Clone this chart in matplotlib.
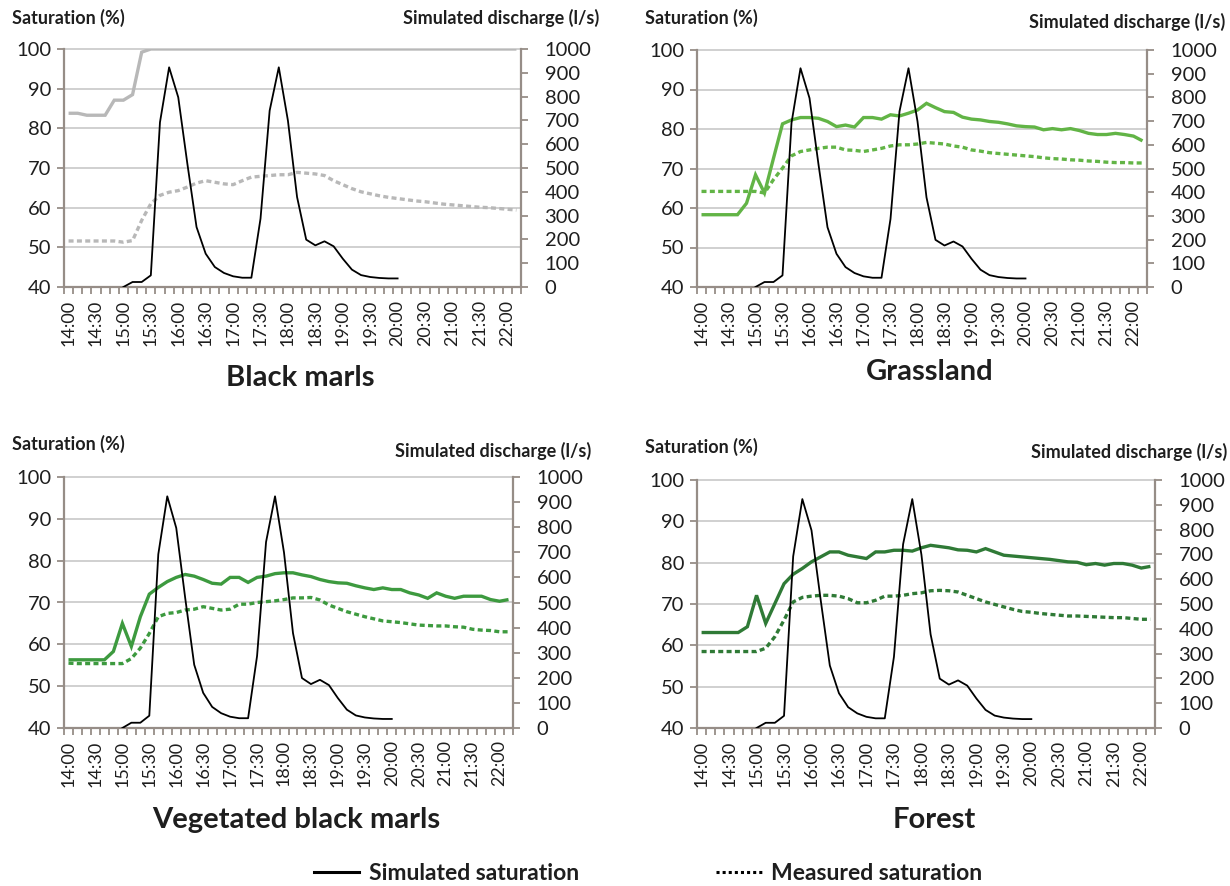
import numpy as np
import matplotlib
matplotlib.use("Agg")
import matplotlib.pyplot as plt
from matplotlib.lines import Line2D

plt.rcParams["font.family"] = ["Lato", "DejaVu Sans"]

nan = np.nan

# 10-minute categories from 14:00 to 22:10, labels every 30 minutes
N_STEPS = 50
TIME_LABELS = ["14:00", "14:30", "15:00", "15:30", "16:00", "16:30", "17:00", "17:30",
               "18:00", "18:30", "19:00", "19:30", "20:00", "20:30", "21:00", "21:30", "22:00"]
SAT_TICKS = [40, 50, 60, 70, 80, 90, 100]
DIS_TICKS = [0, 100, 200, 300, 400, 500, 600, 700, 800, 900, 1000]

# simulated discharge (l/s), same in every panel
DISCHARGE = [nan, nan, nan, nan, nan, nan,
             0, 21, 21, 49, 692, 923, 797, 517, 252, 140,
             84, 59, 45, 39, 39, 287, 741, 923, 699, 378,
             199, 175, 192, 171, 119, 73, 50, 42, 38, 36, 36,
             nan, nan, nan, nan, nan, nan, nan, nan, nan, nan, nan, nan, nan]

BM_SIM = [83.8, 83.8, 83.3, 83.3, 83.3, 87.1, 87.1, 88.5, 99.2, 100,
          100, 100, 100, 100, 100, 100, 100, 100, 100, 100,
          100, 100, 100, 100, 100, 100, 100, 100, 100, 100,
          100, 100, 100, 100, 100, 100, 100, 100, 100, 100,
          100, 100, 100, 100, 100, 100, 100, 100, 100, 100]
BM_MEAS = [51.6, 51.6, 51.6, 51.6, 51.6, 51.6, 51.3, 51.7, 56.8, 61.0,
           63.1, 63.9, 64.3, 65.2, 66.2, 66.8, 66.4, 66.0, 65.8, 66.8,
           67.7, 67.9, 68.1, 68.3, 68.3, 68.9, 68.7, 68.5, 68.1, 66.8,
           65.8, 64.8, 64.0, 63.5, 63.0, 62.6, 62.3, 62.0, 61.7, 61.5,
           61.2, 60.9, 60.7, 60.5, 60.3, 60.1, 60.0, 59.8, 59.6, 59.4]

GR_SIM = [58.3, 58.3, 58.3, 58.3, 58.3, 61.2, 68.4, 63.8, 72.6, 81.3,
          82.3, 82.9, 82.9, 82.7, 81.9, 80.6, 81.0, 80.5, 82.9, 82.9,
          82.5, 83.6, 83.3, 84.0, 84.8, 86.5, 85.4, 84.4, 84.2, 83.0,
          82.5, 82.3, 81.9, 81.7, 81.3, 80.8, 80.6, 80.5, 79.8, 80.1,
          79.8, 80.1, 79.6, 78.9, 78.6, 78.6, 78.9, 78.6, 78.2, 77.0]
GR_MEAS = [64.2, 64.2, 64.2, 64.2, 64.2, 64.2, 64.2, 63.8, 67.2, 70.1,
           73.2, 74.3, 74.7, 75.1, 75.4, 75.4, 74.7, 74.6, 74.3, 74.7,
           75.1, 75.7, 76.0, 76.0, 76.2, 76.6, 76.4, 76.2, 75.7, 75.4,
           74.7, 74.4, 74.0, 73.8, 73.6, 73.4, 73.2, 73.0, 72.7, 72.5,
           72.4, 72.2, 72.1, 71.9, 71.8, 71.6, 71.5, 71.5, 71.4, 71.4]

VBM_SIM = [56.3, 56.3, 56.3, 56.3, 56.3, 58.3, 65.0, 59.5, 66.6, 72.0,
           73.6, 75.0, 76.0, 76.7, 76.3, 75.5, 74.6, 74.4, 76.0, 76.0,
           74.8, 76.0, 76.3, 76.9, 77.1, 77.1, 76.6, 76.2, 75.5, 75.0,
           74.7, 74.6, 74.0, 73.5, 73.1, 73.5, 73.1, 73.1, 72.3, 71.8,
           71.0, 72.3, 71.5, 71.0, 71.5, 71.5, 71.5, 70.7, 70.3, 70.7]
VBM_MEAS = [55.5, 55.4, 55.4, 55.4, 55.4, 55.4, 55.4, 56.6, 59.1, 62.6,
            66.6, 67.4, 67.6, 68.2, 68.4, 69.0, 68.6, 68.2, 68.4, 69.6,
            69.6, 70.0, 70.2, 70.4, 70.7, 71.1, 71.1, 71.2, 70.6, 69.4,
            68.6, 67.8, 67.2, 66.6, 66.1, 65.6, 65.4, 65.2, 64.9, 64.6,
            64.5, 64.4, 64.4, 64.2, 64.1, 63.6, 63.4, 63.3, 63.0, 63.0]

FO_SIM = [63.1, 63.1, 63.1, 63.1, 63.1, 64.5, 72.1, 65.3, 70.1, 74.9,
          77.2, 78.6, 80.2, 81.4, 82.6, 82.6, 81.8, 81.4, 81.0, 82.6,
          82.6, 83.0, 83.0, 82.8, 83.6, 84.2, 83.9, 83.6, 83.1, 83.0,
          82.6, 83.4, 82.6, 81.8, 81.6, 81.4, 81.2, 81.0, 80.8, 80.5,
          80.2, 80.1, 79.5, 79.8, 79.4, 79.8, 79.8, 79.4, 78.7, 79.1]
FO_MEAS = [58.5, 58.5, 58.5, 58.5, 58.5, 58.5, 58.5, 59.3, 62.1, 66.1,
           70.5, 71.6, 71.9, 72.1, 72.1, 71.9, 71.3, 70.3, 70.3, 70.9,
           71.9, 71.9, 72.1, 72.5, 72.7, 73.2, 73.3, 73.2, 72.9, 72.1,
           71.3, 70.5, 69.9, 69.3, 68.7, 68.2, 68.0, 67.7, 67.5, 67.3,
           67.1, 67.1, 67.0, 66.9, 66.8, 66.7, 66.7, 66.5, 66.3, 66.3]

SPINE = "#968d87"
GRID = "#c4c4c4"
TXT = "#1e1e1e"
DOTS = (0, (1.5, 1.0))

W, H = 1230, 886
fig = plt.figure(figsize=(W / 100, H / 100), dpi=100)


def px_rect(l, r, t, b):
    return [l / W, 1 - b / H, (r - l) / W, (b - t) / H]


def px_text(x, y, s, **kw):
    fig.text(x / W, 1 - y / H, s, color=TXT, **kw)


def draw_panel(rect, sim, meas, color, title, title_y, header_y, dis_y):
    l, r, t, b = rect
    ax = fig.add_axes(px_rect(l, r, t, b))
    x = np.arange(N_STEPS)
    ax.plot(x, sim, color=color, lw=2.4, solid_capstyle="butt", solid_joinstyle="miter", zorder=3)
    ax.plot(x, meas, color=color, lw=2.4, ls=DOTS, dash_capstyle="butt", zorder=3)
    ax.set_xlim(-0.5, N_STEPS - 0.5)
    ax.set_ylim(40, 100)
    ax.set_yticks(SAT_TICKS)
    ax.yaxis.grid(True, color=GRID, lw=1.1)
    ax.set_axisbelow(True)
    for g in ax.get_ygridlines():
        g.set_clip_on(False)
    ax.set_xticks(np.arange(0, N_STEPS - 1, 3))
    ax.set_xticklabels(TIME_LABELS, rotation=90, fontsize=13, color=TXT)
    ax.set_xticks(np.arange(-0.5, N_STEPS, 1), minor=True)
    ax.tick_params(axis="x", which="major", length=0, pad=9)
    ax.tick_params(axis="x", which="minor", length=5, width=1.3, color=SPINE)
    ax.tick_params(axis="y", length=5, width=1.3, color=SPINE, labelsize=14.5, labelcolor=TXT, pad=4)
    for s in ["top", "right"]:
        ax.spines[s].set_visible(False)
    for s in ["left", "bottom"]:
        ax.spines[s].set_color(SPINE)
        ax.spines[s].set_linewidth(1.6)

    ax2 = ax.twinx()
    ax2.plot(x, DISCHARGE, color="black", lw=1.3, zorder=4)
    ax2.set_ylim(0, 1000)
    ax2.set_yticks(DIS_TICKS)
    ax2.tick_params(axis="y", length=5, width=1.3, color=SPINE, labelsize=14.5, labelcolor=TXT, pad=12)
    for s in ["top", "left", "bottom"]:
        ax2.spines[s].set_visible(False)
    ax2.spines["right"].set_color(SPINE)
    ax2.spines["right"].set_linewidth(1.6)

    px_text(l - 52, header_y, "Saturation (%)", fontsize=13, fontweight="bold", ha="left", va="center")
    px_text(min(r + 78, 1227), dis_y, "Simulated discharge (l/s)", fontsize=13, fontweight="bold",
            ha="right", va="center")
    px_text((l + r) / 2 + 8, title_y, title, fontsize=21, fontweight="bold", ha="center", va="center")


draw_panel((64, 521, 49, 287), BM_SIM, BM_MEAS, "#b8b8b8", "Black marls", 378, 18, 18)
draw_panel((697, 1147, 50, 287), GR_SIM, GR_MEAS, "#62b446", "Grassland", 372, 18, 22)
draw_panel((64, 513, 477, 728), VBM_SIM, VBM_MEAS, "#3d9a3f", "Vegetated black marls", 820, 444, 451)
draw_panel((697, 1155, 480, 728), FO_SIM, FO_MEAS, "#2f7a36", "Forest", 820, 447, 452)

handles = [Line2D([], [], color="black", lw=2.2),
           Line2D([], [], color="black", lw=2.2, ls=(0, (1, 1)))]
fig.legend(handles, ["Simulated saturation", "Measured saturation"], loc="center",
           bbox_to_anchor=(648 / W, 1 - 874 / H), ncol=2, frameon=False,
           prop={"size": 16.5, "weight": "bold"}, handlelength=2.0, handletextpad=0.4,
           columnspacing=6.0, labelcolor=TXT)

fig.savefig("out.png", dpi=100, facecolor="white")
